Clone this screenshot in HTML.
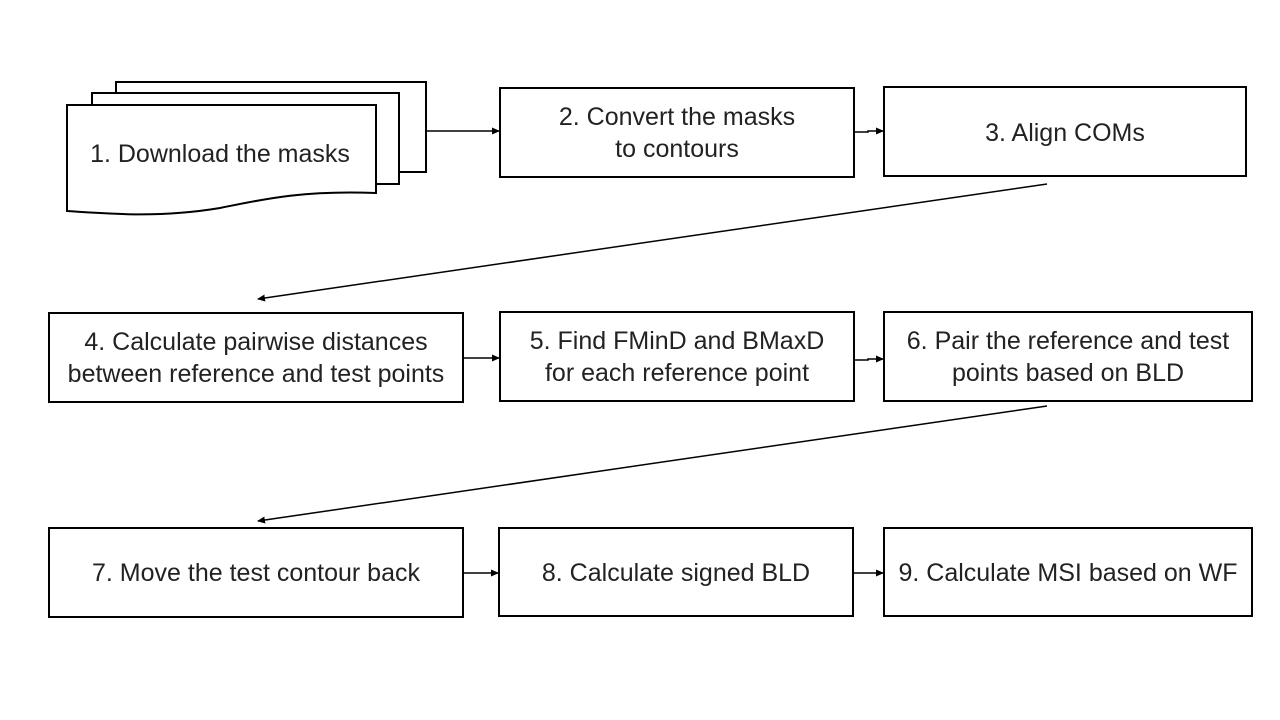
<!DOCTYPE html>
<html><head><meta charset="utf-8"><style>
html,body{margin:0;padding:0;background:#fff;}
svg{display:block;}
text{font-family:"Liberation Sans",sans-serif;font-size:25px;fill:#222;text-anchor:middle;}
</style></head><body>
<svg width="1280" height="720" viewBox="0 0 1280 720" xmlns="http://www.w3.org/2000/svg">
<defs><marker id="a" markerWidth="8" markerHeight="8" refX="7" refY="4" orient="auto" markerUnits="userSpaceOnUse"><path d="M0,0.5 L8,4 L0,7.5 z" fill="#000"/></marker></defs>
<g fill="#fff" stroke="#000" stroke-width="2">
<rect x="116" y="82" width="310" height="90"/>
<rect x="92" y="93" width="307" height="91"/>
<path d="M67,105 L376,105 L376,193 C300,190 260,200 220,208 C160,218 110,214 67,211 Z"/>
<rect x="500" y="88" width="354" height="89"/>
<rect x="884" y="87" width="362" height="89"/>
<rect x="49" y="313" width="414" height="89"/>
<rect x="500" y="312" width="354" height="89"/>
<rect x="884" y="312" width="368" height="89"/>
<rect x="49" y="528" width="414" height="89"/>
<rect x="499" y="528" width="354" height="88"/>
<rect x="884" y="528" width="368" height="88"/>
</g>
<g stroke="#000" stroke-width="1.5" fill="none" marker-end="url(#a)">
<line x1="426" y1="131" x2="499" y2="131"/>
<polyline points="854,132 868,132 868,131 883,131"/>
<line x1="1047" y1="184" x2="258" y2="299"/>
<polyline points="463,358 499,358"/>
<polyline points="854,360 868,360 868,359 883,359"/>
<line x1="1047" y1="406" x2="258" y2="521"/>
<line x1="463" y1="573" x2="498" y2="573"/>
<line x1="853" y1="573" x2="883" y2="573"/>
</g>
<text x="220" y="162">1. Download the masks</text>
<text x="677" y="125">2. Convert the masks</text>
<text x="677" y="157">to contours</text>
<text x="1065" y="141">3. Align COMs</text>
<text x="256" y="350">4. Calculate pairwise distances</text>
<text x="256" y="382">between reference and test points</text>
<text x="677" y="349">5. Find FMinD and BMaxD</text>
<text x="677" y="381">for each reference point</text>
<text x="1068" y="349">6. Pair the reference and test</text>
<text x="1068" y="381">points based on BLD</text>
<text x="256" y="581">7. Move the test contour back</text>
<text x="676" y="581">8. Calculate signed BLD</text>
<text x="1068" y="581">9. Calculate MSI based on WF</text>
</svg>
</body></html>
